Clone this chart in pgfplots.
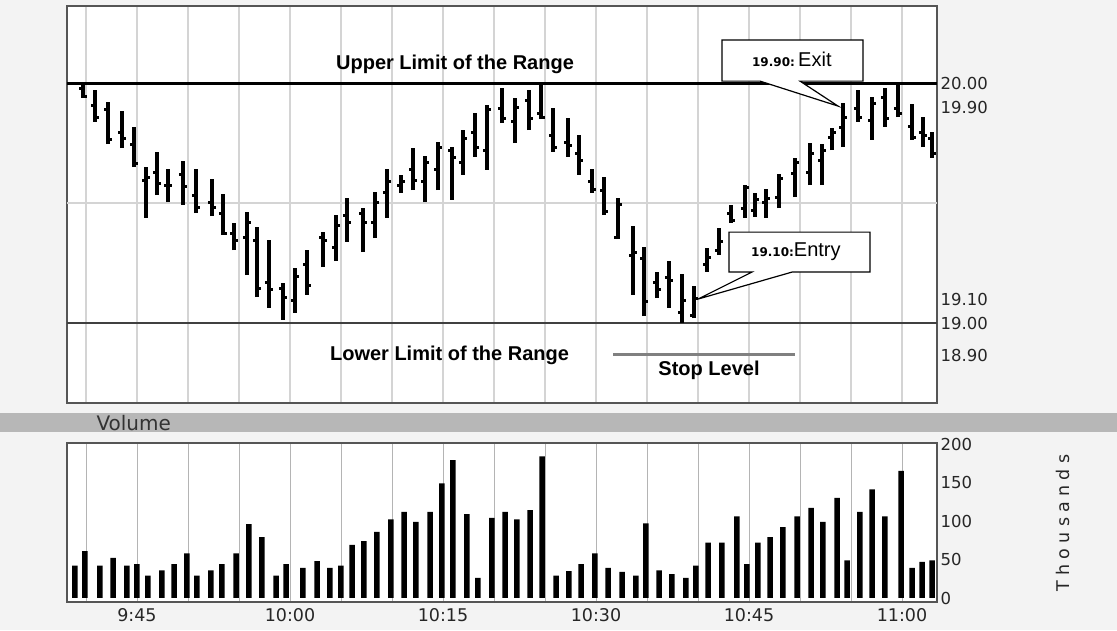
\documentclass[border=0pt]{standalone}
\usepackage{pgfplots}
\pgfplotsset{compat=1.18}
\usepackage{pgfplotstable}
\usepackage{fontspec}
\setmainfont{Liberation Sans}
\newfontfamily\dv{DejaVu Sans}
\newfontfamily\dvspaced[LetterSpace=30]{DejaVu Sans}
\definecolor{bgc}{HTML}{F3F3F3}
\definecolor{band}{HTML}{B7B7B7}
\definecolor{gridc}{HTML}{D4D4D4}
\definecolor{framec}{HTML}{555555}

% x = minutes after 9:40 ; price bars: high, low, open, close
\pgfplotstableread{
x h l o c
-0.29 19.992 19.938 19.979 19.946
0.88 19.971 19.838 19.908 19.858
2.16 19.921 19.746 19.888 19.763
3.53 19.883 19.729 19.792 19.771
4.71 19.817 19.650 19.742 19.663
5.88 19.650 19.438 19.596 19.608
6.96 19.713 19.533 19.629 19.583
8.04 19.642 19.504 19.575 19.575
9.51 19.675 19.492 19.617 19.567
10.78 19.642 19.458 19.533 19.483
12.35 19.600 19.446 19.504 19.483
13.43 19.538 19.367 19.458 19.375
14.51 19.417 19.304 19.375 19.346
15.78 19.463 19.200 19.358 19.417
16.76 19.400 19.108 19.346 19.146
17.94 19.346 19.063 19.167 19.138
19.31 19.167 19.013 19.146 19.108
20.49 19.229 19.042 19.096 19.192
21.67 19.304 19.117 19.242 19.158
23.24 19.379 19.233 19.358 19.346
24.51 19.450 19.258 19.313 19.408
25.59 19.521 19.338 19.450 19.417
27.16 19.479 19.296 19.458 19.421
28.33 19.546 19.354 19.417 19.504
29.51 19.642 19.438 19.546 19.588
30.88 19.617 19.542 19.575 19.588
32.06 19.729 19.554 19.638 19.596
33.24 19.696 19.504 19.588 19.671
34.51 19.754 19.554 19.638 19.733
35.88 19.733 19.513 19.721 19.688
36.96 19.804 19.617 19.671 19.767
38.14 19.875 19.692 19.796 19.733
39.31 19.908 19.638 19.721 19.888
40.78 19.979 19.833 19.896 19.854
42.06 19.938 19.750 19.838 19.900
43.43 19.971 19.804 19.929 19.854
44.61 20.000 19.850 19.875 19.858
45.78 19.896 19.713 19.783 19.733
47.25 19.854 19.692 19.754 19.738
48.33 19.783 19.617 19.708 19.679
49.61 19.642 19.542 19.588 19.558
50.78 19.608 19.450 19.554 19.463
52.16 19.521 19.350 19.358 19.492
53.63 19.404 19.117 19.283 19.296
54.71 19.317 19.029 19.271 19.088
55.98 19.213 19.104 19.167 19.138
57.16 19.258 19.063 19.188 19.179
58.43 19.204 19.000 19.042 19.096
59.61 19.154 19.021 19.033 19.104
60.88 19.313 19.213 19.242 19.275
62.06 19.396 19.283 19.304 19.338
63.24 19.492 19.417 19.458 19.429
64.61 19.575 19.438 19.479 19.563
65.59 19.542 19.442 19.471 19.513
66.67 19.558 19.438 19.504 19.521
67.94 19.621 19.479 19.525 19.604
69.51 19.688 19.525 19.625 19.667
70.98 19.750 19.575 19.629 19.708
72.16 19.746 19.575 19.679 19.721
73.14 19.813 19.721 19.775 19.796
74.22 19.917 19.733 19.813 19.858
75.69 19.971 19.838 19.896 19.858
77.06 19.942 19.763 19.846 19.913
78.33 19.979 19.817 19.938 19.854
79.61 20.000 19.858 19.896 19.875
80.98 19.913 19.763 19.817 19.775
82.06 19.858 19.733 19.792 19.783
82.94 19.796 19.688 19.771 19.708
}\pricedata

% volume in thousands
\pgfplotstableread{
x v
-1.08 42
-0.10 61
1.37 42
2.65 52
4.02 42
5.00 44
6.08 29
7.45 36
8.63 44
9.90 58
10.88 29
12.25 36
13.33 44
14.71 58
15.98 96
17.25 79
18.63 29
19.61 44
21.27 39
22.65 48
23.92 39
25.00 42
26.08 69
27.25 74
28.53 86
29.90 102
31.18 112
32.35 99
33.73 112
34.90 149
35.98 179
37.35 109
38.43 26
39.80 104
41.08 112
42.25 102
43.53 114
44.71 184
46.08 29
47.35 35
48.53 44
49.90 58
51.18 39
52.55 34
53.92 29
54.90 97
56.18 36
57.45 31
58.82 26
59.80 42
60.98 72
62.35 72
63.82 106
64.80 44
65.88 72
67.06 79
68.33 92
69.71 106
71.08 117
72.25 99
73.63 130
74.61 49
75.88 112
77.06 141
78.33 106
79.90 165
80.98 39
81.96 47
82.94 49
}\voldata

\begin{document}
\begin{tikzpicture}
\path[use as bounding box, fill=bgc] (0pt,0pt) rectangle (1117pt,630pt);
\fill[band] (0pt,198pt) rectangle (1117pt,217pt);
\node[anchor=west, font=\dv\fontsize{20}{20}\selectfont, text=black!80] at (93pt,207pt) {Volume};

\begin{axis}[
  at={(67pt,227pt)}, anchor=south west,
  scale only axis, width=870pt, height=397pt,
  xmin=-1.86, xmax=83.43, ymin=18.667, ymax=20.321,
  axis background/.style={fill=white},
  axis line style={draw=framec, line width=1.5pt},
  xtick={0,5,...,80}, xticklabels={},
  xmajorgrids, major grid style={draw=gridc, line width=1.8pt},
  major tick length=0pt,
  ytick={18.865,19,19.1,19.9,20},
  yticklabels={18.90,19.00,19.10,19.90,20.00},
  yticklabel pos=right,
  yticklabel style={font=\dv\fontsize{16.5}{16.5}\selectfont, anchor=west, text=black!85},
  extra y ticks={19.5}, extra y tick labels={},
  extra y tick style={grid=major},
]
% upper and lower limits of the range, stop level
\addplot[black, line width=3pt] coordinates {(-1.86,20) (83.43,20)};
\addplot[black!75, line width=2.2pt] coordinates {(-1.86,19) (83.43,19)};
\addplot[black!50, line width=3pt] coordinates {(51.67,18.867) (69.51,18.867)};
% OHLC bars
\addplot[black, mark=none, quiver={u=0, v=\thisrow{h}-\thisrow{l}, every arrow/.append style={line width=3.2pt}}] table[x=x, y=l] {\pricedata};
\addplot[black, mark=none, quiver={u=-0.4, v=0, every arrow/.append style={line width=3pt}}] table[x=x, y=o] {\pricedata};
\addplot[black, mark=none, quiver={u=0.4, v=0, every arrow/.append style={line width=3pt}}] table[x=x, y=c] {\pricedata};
% annotations
\node[anchor=base, font=\bfseries\fontsize{20}{20}\selectfont] at (36.18,20.058) {Upper Limit of the Range};
\node[anchor=base, font=\bfseries\fontsize{20}{20}\selectfont] at (35.64,18.846) {Lower Limit of the Range};
\node[anchor=base, font=\bfseries\fontsize{20}{20}\selectfont] at (61.08,18.783) {Stop Level};
\draw[black, line width=1.2pt, fill=white] (62.35,20.179) -- (76.18,20.179) -- (76.18,20.008) -- (70.0,20.008) -- (73.73,19.904) -- (66.08,20.008) -- (62.35,20.008) -- cycle;
\node[font=\fontsize{20}{20}\selectfont] at (69.2,20.098) {{\dv\bfseries\fontsize{12}{12}\selectfont 19.90:}\,Exit};
\draw[black, line width=1.2pt, fill=white] (63.04,19.379) -- (76.86,19.379) -- (76.86,19.2125) -- (69.22,19.2125) -- (60.0,19.10) -- (65.29,19.2125) -- (63.04,19.2125) -- cycle;
\node[font=\fontsize{20}{20}\selectfont] at (69.6,19.296) {{\dv\bfseries\fontsize{12}{12}\selectfont 19.10:}Entry};
\end{axis}

\begin{axis}[
  at={(67pt,28pt)}, anchor=south west,
  scale only axis, width=870pt, height=159pt,
  xmin=-1.86, xmax=83.43, ymin=-5.2, ymax=201.3,
  axis background/.style={fill=white},
  axis line style={draw=framec, line width=1.8pt},
  xtick={0,5,...,80},
  xticklabels={,9:45,,,10:00,,,10:15,,,10:30,,,10:45,,,11:00},
  xticklabel style={font=\dv\fontsize{17.5}{17.5}\selectfont, text=black!85, yshift=-3pt},
  xmajorgrids, major grid style={draw=gridc!85!black, line width=0.9pt},
  major tick length=0pt,
  ytick={0,50,100,150,200}, yticklabels={0,50,100,150,200},
  yticklabel pos=right,
  yticklabel style={font=\dv\fontsize{16.5}{16.5}\selectfont, anchor=west, text=black!85},
]
\addplot[ybar, bar width=5.5pt, bar shift=0pt, fill=black, draw=none] table[x=x, y=v] {\voldata};
\end{axis}

\node[rotate=90, font=\dvspaced\fontsize{17.5}{17.5}\selectfont, text=black!85] at (1063pt,107pt) {Thousands};
\end{tikzpicture}
\end{document}
